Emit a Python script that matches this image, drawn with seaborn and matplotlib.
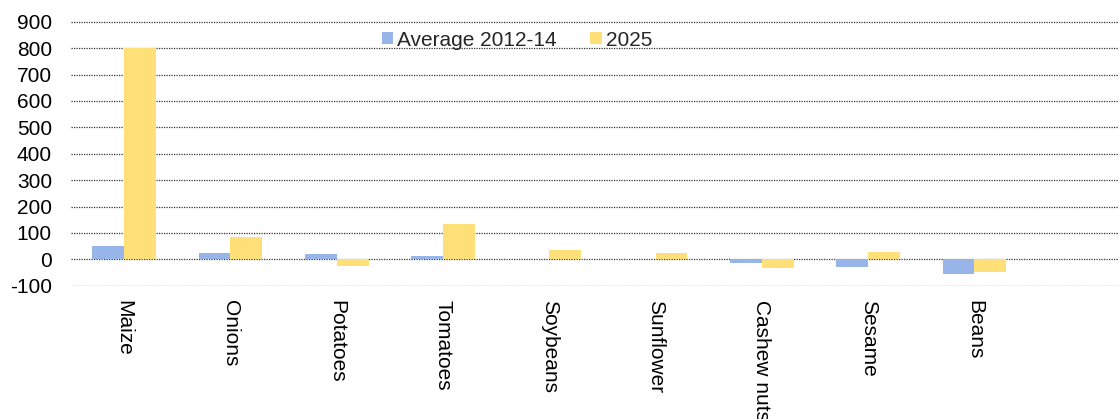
import matplotlib
matplotlib.use("Agg")
import matplotlib.pyplot as plt
import seaborn as sns
import pandas as pd

categories = ["Maize", "Onions", "Potatoes", "Tomatoes", "Soybeans",
              "Sunflower", "Cashew nuts", "Sesame", "Beans"]
avg_2012_14 = [51, 22, 20, 11, 3, 2, -14, -28, -54]
y2025 = [800, 85, -24, 134, 37, 22, -34, 27, -49]
series_names = ["Average 2012-14", "2025"]
yticks = [-100, 0, 100, 200, 300, 400, 500, 600, 700, 800, 900]

df = pd.DataFrame({
    "category": categories * 2,
    "value": avg_2012_14 + y2025,
    "series": [series_names[0]] * len(categories) + [series_names[1]] * len(categories),
})

sns.set_theme(style="white")
plt.rcParams["font.family"] = ["Liberation Sans", "DejaVu Sans"]
plt.rcParams["axes.unicode_minus"] = False

fig = plt.figure(figsize=(11.19, 4.19), dpi=100)
ppu = (285.7 - 21.7) / 1000.0
top_px = 21.7 - 2 * ppu
bot_px = 285.7 + 2 * ppu
ax = fig.add_axes([71 / 1119, 1 - bot_px / 419, 1 - 71 / 1119, (bot_px - top_px) / 419])

palette = {series_names[0]: "#97B5E8", series_names[1]: "#FFDF78"}
sns.barplot(data=df, x="category", y="value", hue="series", order=categories,
            hue_order=series_names, palette=palette, width=0.6, saturation=1,
            ax=ax, zorder=3, linewidth=0)

ax.set_ylim(-102, 902)
ax.set_yticks(yticks)
ax.set_xlim(-0.5, 9.36)
ax.yaxis.grid(True, linestyle=(0, (1, 1)), color="#333333", linewidth=0.9, zorder=0)
ax.xaxis.grid(False)
ax.set_axisbelow(True)
for s in ax.spines.values():
    s.set_visible(False)
ax.set_xlabel("")
ax.set_ylabel("")
ax.tick_params(axis="y", labelsize=15, length=0, pad=13.7, colors="black")
ax.tick_params(axis="x", labelsize=15, length=0, pad=10, colors="black")
for lab in ax.get_xticklabels():
    lab.set_rotation(-90)
    lab.set_va("top")
    lab.set_ha("center")

handles, labels = ax.get_legend_handles_labels()
ax.legend_.remove()
fig.legend(handles, labels, loc="center", bbox_to_anchor=(0.462, 1 - 40 / 419),
           ncol=2, frameon=False, fontsize=15, handlelength=0.55, handleheight=0.55,
           handletextpad=0.2, columnspacing=1.6)

fig.savefig("out.png", dpi=100)
